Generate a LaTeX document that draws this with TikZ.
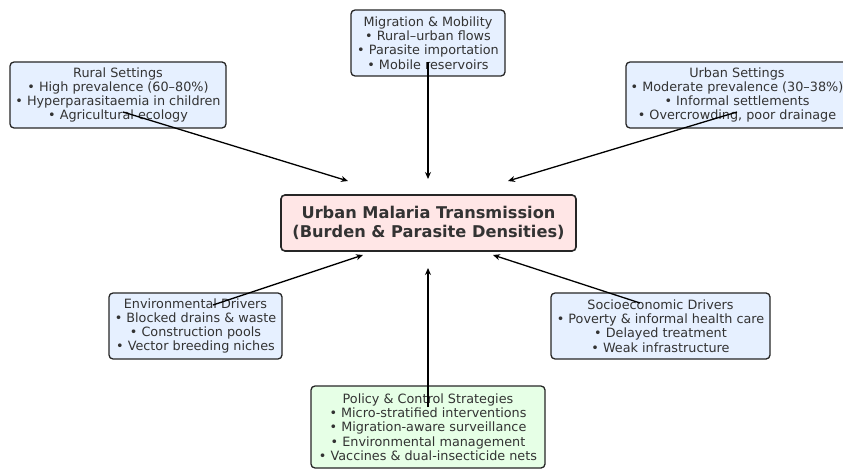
\documentclass[tikz,border=0pt]{standalone}
\usepackage{fontspec}
\setmainfont{DejaVu Sans}
\usetikzlibrary{arrows.meta}
\definecolor{txt}{HTML}{333333}
\definecolor{boxblue}{HTML}{E6F0FF}
\definecolor{boxgreen}{HTML}{E6FFE6}
\definecolor{boxpink}{HTML}{FFE6E6}
\tikzset{
  infobox/.style={draw=black!85, line width=1.3pt, rounded corners=4pt, fill=boxblue,
    text=txt, align=center, font=\fontsize{12.8}{14.3}\selectfont, inner sep=0pt},
  mainbox/.style={infobox, fill=boxpink, font=\bfseries\fontsize{16.2}{19}\selectfont, line width=1.6pt},
  conn/.style={line width=1.3pt, -{Stealth[length=7pt,width=6pt]}}
}
\begin{document}
\begin{tikzpicture}[x=1pt,y=-1pt]
\useasboundingbox (0,0) rectangle (843,470);
\node[infobox, minimum width=216pt, minimum height=66pt] (rural) at (118,95)
  {Rural Settings\\• High prevalence (60–80\%)\\• Hyperparasitaemia in children\\• Agricultural ecology};
\node[infobox, minimum width=154pt, minimum height=66pt] (mig) at (428,43)
  {Migration \& Mobility\\• Rural–urban flows\\• Parasite importation\\• Mobile reservoirs};
\node[infobox, minimum width=222pt, minimum height=66pt] (urban) at (737,95)
  {Urban Settings\\• Moderate prevalence (30–38\%)\\• Informal settlements\\• Overcrowding, poor drainage};
\node[mainbox, minimum width=295pt, minimum height=56pt] (main) at (428.5,223)
  {Urban Malaria Transmission\\(Burden \& Parasite Densities)};
\node[infobox, minimum width=173pt, minimum height=66pt] (env) at (195.5,326)
  {Environmental Drivers\\• Blocked drains \& waste\\• Construction pools\\• Vector breeding niches};
\node[infobox, minimum width=219pt, minimum height=66pt] (socio) at (660.5,326)
  {Socioeconomic Drivers\\• Poverty \& informal health care\\• Delayed treatment\\• Weak infrastructure};
\node[infobox, fill=boxgreen, minimum width=234pt, minimum height=82pt] (pol) at (428,427)
  {Policy \& Control Strategies\\• Micro-stratified interventions\\• Migration-aware surveillance\\• Environmental management\\• Vaccines \& dual-insecticide nets};
% connector anchors
\coordinate (s1) at (123,112); \coordinate (e1) at (348,181);
\coordinate (s2) at (428,62);  \coordinate (e2) at (428,179);
\coordinate (s3) at (737,112); \coordinate (e3) at (508,181);
\coordinate (s4) at (213,305); \coordinate (e4) at (363,255);
\coordinate (s5) at (640,303); \coordinate (e5) at (493,255);
\coordinate (s6) at (428,407); \coordinate (e6) at (428,268);
\foreach \i in {1,...,6} { \draw[conn] (s\i) -- (e\i); }
\end{tikzpicture}
\end{document}
